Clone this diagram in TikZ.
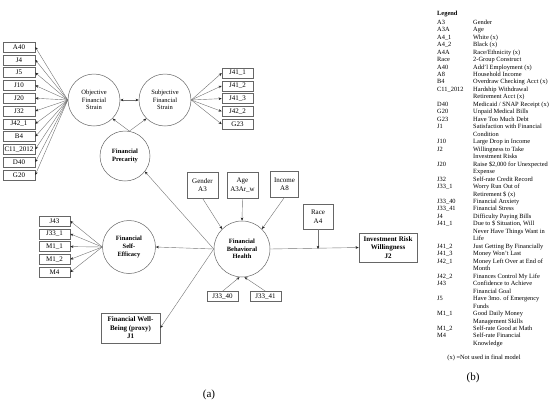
\documentclass[tikz,border=0pt]{standalone}
\usepackage{fontspec}
\setmainfont{Liberation Serif}
\usepackage{array}
\usetikzlibrary{arrows.meta, positioning}

\begin{document}
\begin{tikzpicture}[x=1pt, y=-1pt,
    latent/.style={
        circle,
        draw=black!60,
        line width=0.5pt,
        minimum size=52pt,
        inner sep=0pt,
        align=center,
        font=\fontsize{6.5}{7.6}\selectfont
    },
    indicator/.style={
        draw=black!60,
        line width=0.5pt,
        minimum width=31pt,
        minimum height=10pt,
        inner sep=0pt,
        font=\fontsize{7}{8}\selectfont
    },
    observed/.style={
        draw=black!60,
        line width=0.5pt,
        align=center,
        inner sep=0pt,
        minimum width=31pt,
        minimum height=26pt,
        font=\fontsize{7}{8.5}\selectfont
    },
    link/.style={draw=black!55, line width=0.4pt, -{Stealth[length=3.2pt,width=2.6pt,color=black!85]}},
    twolink/.style={draw=black!55, line width=0.4pt, {Stealth[length=3.2pt,width=2.6pt,color=black!85]}-{Stealth[length=3.2pt,width=2.6pt,color=black!85]}}
]
    \useasboundingbox (0,0) rectangle (550,405);

    % latent constructs
    \node[latent] (objstrain) at (94,100) {Objective\\Financial\\Strain};
    \node[latent] (subjstrain) at (165,100) {Subjective\\Financial\\Strain};
    \node[latent, minimum size=50pt, font=\fontsize{6.5}{7.6}\selectfont\bfseries] (precarity) at (125,156) {Financial\\Precarity};
    \node[latent, minimum size=53pt, font=\fontsize{6.5}{7.6}\selectfont\bfseries] (selfeff) at (129,247) {Financial\\Self-\\Efficacy};
    \node[latent, minimum size=56pt, font=\fontsize{6.5}{7.6}\selectfont\bfseries] (fbh) at (242,249) {Financial\\Behavioral\\Health};

    % indicators
    \foreach \lab [count=\i] in {A40,J4,J5,J10,J20,J32,J42\_1,B4,C11\_2012,D40,G20} {
        \node[indicator, minimum width=32pt] (obj\i) at (19,34.2+12.8*\i) {\lab};
        \draw[link] (objstrain.west) -- (obj\i.east);
    }
    \foreach \lab [count=\i] in {J41\_1,J41\_2,J41\_3,J42\_2,G23} {
        \node[indicator] (subj\i) at (237.5,60.2+12.8*\i) {\lab};
        \draw[link] (subjstrain.east) -- (subj\i.west);
    }
    \foreach \lab [count=\i] in {J43,J33\_1,M1\_1,M1\_2,M4} {
        \node[indicator] (self\i) at (54.5,208.2+12.8*\i) {\lab};
        \draw[link] (selfeff.west) -- (self\i.east);
    }

    % observed variables
    \node[observed] (gender) at (202.5,185) {Gender\\A3};
    \node[observed] (age) at (242.5,185) {Age\\A3Ar\_w};
    \node[observed, minimum width=28pt] (income) at (284.5,184) {Income\\A8};
    \node[observed, minimum width=30pt, minimum height=25pt] (race) at (318,216.5) {Race\\A4};
    \node[indicator] (anx) at (222.5,296.5) {J33\_40};
    \node[indicator] (stress) at (265.5,296.5) {J33\_41};
    \node[observed, minimum width=59pt, minimum height=30pt, font=\fontsize{7}{8.5}\selectfont\bfseries] (wellbeing) at (130.5,328) {Financial Well-\\Being (proxy)\\J1};
    \node[observed, minimum width=58pt, minimum height=29pt, font=\fontsize{7}{8.5}\selectfont\bfseries] (invest) at (388,247.5) {Investment Risk\\Willingness\\J2};
    \coordinate (racehit) at (race.south |- fbh.east);

    % structural paths
    \draw[twolink] (objstrain.east) -- (subjstrain.west);
    \draw[link] (precarity.80) -- (objstrain.-45);
    \draw[link] (precarity.80) -- (subjstrain.-135);
    \draw[link] (fbh.west) -- (precarity.-38);
    \draw[link] (fbh.west) -- (selfeff.east);
    \draw[link] (fbh.west) -- (wellbeing.east);
    \draw[link] (fbh.east) -- (invest.west);
    \draw[link] (gender.south) -- (fbh.135);
    \draw[link] (age.south) -- (fbh.north);
    \draw[link] (income.south) -- (fbh.45);
    \draw[link] (race.south) -- (racehit);
    \draw[link] (anx.north) -- (fbh.-95);
    \draw[link] (stress.north) -- (fbh.-85);

    \node[font=\fontsize{11}{12}\selectfont] (panela) at (209,395) {(a)};

    % legend
    \node[anchor=north west, inner sep=0pt, font=\fontsize{6.4}{7.47}\selectfont] (legend) at (437,9.8) {%
        \begin{tabular}{@{}w{l}{36pt}@{}l@{}}
        \multicolumn{2}{@{}l}{\textbf{Legend}}\\[1.5pt]
        A3 & Gender\\
        A3A & Age\\
        A4\_1 & White (x)\\
        A4\_2 & Black (x)\\
        A4A & Race/Ethnicity (x)\\
        Race & 2-Group Construct\\
        A40 & Add'l Employment (x)\\
        A8 & Household Income\\
        B4 & Overdraw Checking Acct (x)\\
        C11\_2012 & Hardship Withdrawal\\
         & Retirement Acct (x)\\
        D40 & Medicaid / SNAP Receipt (x)\\
        G20 & Unpaid Medical Bills\\
        G23 & Have Too Much Debt\\
        J1 & Satisfaction with Financial\\
         & Condition\\
        J10 & Large Drop in Income\\
        J2 & Willingness to Take\\
         & Investment Risks\\
        J20 & Raise \$2,000 for Unexpected\\
         & Expense\\
        J32 & Self-rate Credit Record\\
        J33\_1 & Worry Run Out of\\
         & Retirement \$ (x)\\
        J33\_40 & Financial Anxiety\\
        J33\_41 & Financial Stress\\
        J4 & Difficulty Paying Bills\\
        J41\_1 & Due to \$ Situation, Will\\
         & Never Have Things Want in\\
         & Life\\
        J41\_2 & Just Getting By Financially\\
        J41\_3 & Money Won't Last\\
        J42\_1 & Money Left Over at End of\\
         & Month\\
        J42\_2 & Finances Control My Life\\
        J43 & Confidence to Achieve\\
         & Financial Goal\\
        J5 & Have 3mo. of Emergency\\
         & Funds\\
        M1\_1 & Good Daily Money\\
         & Management Skills\\
        M1\_2 & Self-rate Good at Math\\
        M4 & Self-rate Financial\\
         & Knowledge
        \end{tabular}};
    \node[font=\fontsize{6.4}{7.5}\selectfont] (note) at (484,358) {(x) =Not used in final model};
    \node[font=\fontsize{11}{12}\selectfont] (panelb) at (473,378) {(b)};
\end{tikzpicture}
\end{document}
